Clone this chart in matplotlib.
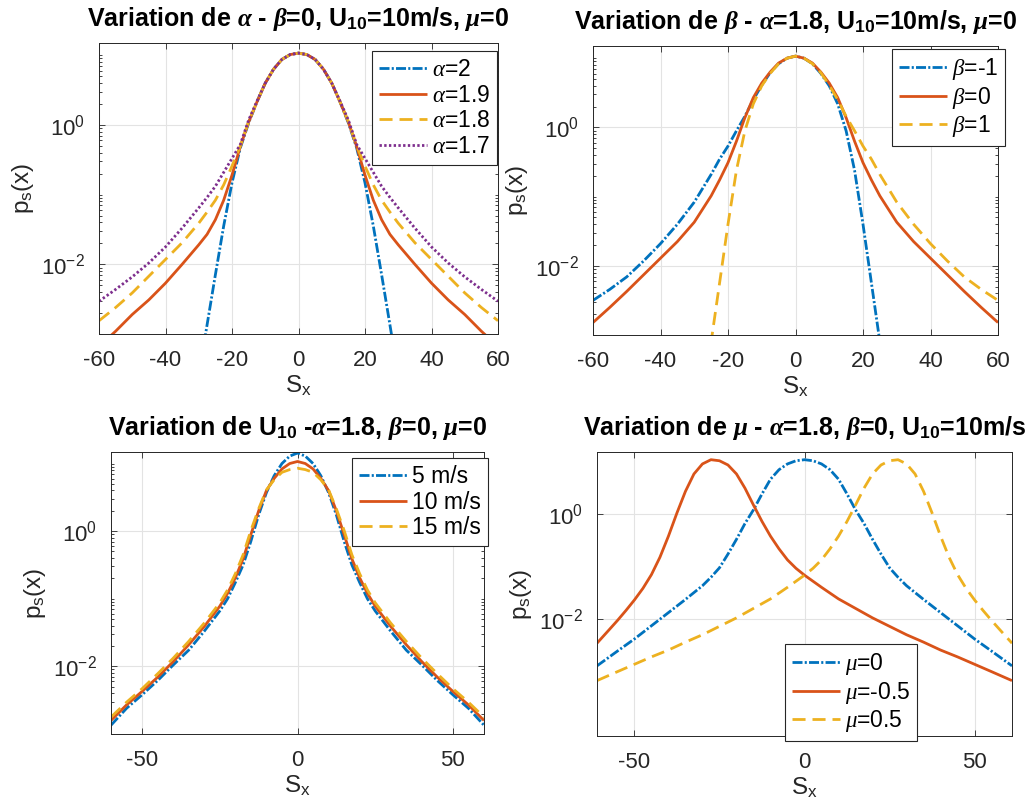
import numpy as np
import matplotlib
matplotlib.use("Agg")
import matplotlib.pyplot as plt
from matplotlib.ticker import FixedLocator, NullFormatter, NullLocator

plt.rcParams.update({
    "font.family": ["Liberation Sans", "DejaVu Sans"],
    "mathtext.fontset": "custom",
    "mathtext.rm": "Liberation Sans",
    "mathtext.it": "Liberation Serif:italic",
    "mathtext.bf": "Liberation Sans:bold",
    "mathtext.bfit": "Liberation Serif:italic:bold",
    "axes.unicode_minus": False,
})

# ---------------- data (log10 of p_s(x)) ----------------
# Panel 1 : variation of alpha
x_a = [-60, -55, -50, -45, -40, -35, -30, -27.5, -25, -22.5, -20, -17.5, -15, -12.5, -10, -7.5, -5, -2.5,
       0, 2.5, 5, 7.5, 10, 12.5, 15, 17.5, 20, 22.5, 25, 27.5, 30, 35, 40, 45, 50, 55, 60]
x_a2 = [-30, -27.5, -25, -22.5, -20, -17.5, -15, -12.5, -10, -7.5, -5, -2.5,
        0, 2.5, 5, 7.5, 10, 12.5, 15, 17.5, 20, 22.5, 25, 27.5, 30]
lp_a20 = [-3.60, -2.87, -2.15, -1.45, -0.83, -0.33, 0.03, 0.33, 0.60, 0.80, 0.94, 1.01,
          1.031, 1.01, 0.94, 0.80, 0.60, 0.33, 0.03, -0.33, -0.83, -1.45, -2.15, -2.87, -3.60]
lp_a19 = [-3.18, -2.96, -2.72, -2.51, -2.27, -2.00, -1.72, -1.57, -1.36, -1.08, -0.72, -0.31, 0.04, 0.33, 0.60, 0.80, 0.94, 1.01,
          1.031, 1.01, 0.94, 0.80, 0.60, 0.33, 0.04, -0.31, -0.72, -1.08, -1.36, -1.57, -1.72, -2.00, -2.27, -2.51, -2.72, -2.96, -3.18]
lp_a18 = [-2.81, -2.62, -2.41, -2.17, -1.93, -1.69, -1.41, -1.25, -1.08, -0.86, -0.59, -0.30, 0.05, 0.33, 0.60, 0.80, 0.94, 1.01,
          1.031, 1.01, 0.94, 0.80, 0.60, 0.33, 0.05, -0.30, -0.59, -0.86, -1.08, -1.25, -1.41, -1.69, -1.93, -2.17, -2.41, -2.62, -2.81]
lp_a17 = [-2.53, -2.36, -2.18, -1.98, -1.75, -1.48, -1.19, -1.04, -0.88, -0.68, -0.48, -0.28, 0.07, 0.34, 0.60, 0.80, 0.94, 1.01,
          1.031, 1.01, 0.94, 0.80, 0.60, 0.34, 0.07, -0.28, -0.48, -0.68, -0.88, -1.04, -1.19, -1.48, -1.75, -1.98, -2.18, -2.36, -2.53]
labels_a = [r"$\alpha$=2", r"$\alpha$=1.9", r"$\alpha$=1.8", r"$\alpha$=1.7"]

# Panel 2 : variation of beta
x_b = [-60, -55, -50, -45, -40, -35, -30, -27.5, -25, -22.5, -20, -17.5, -15, -12.5, -10, -7.5, -5, -2.5,
       0, 2.5, 5, 7.5, 10, 12.5, 15, 17.5, 20, 22.5, 25, 27.5, 30, 35, 40, 45, 50, 55, 60]
x_bm = [-60, -55, -50, -45, -40, -35, -30, -27.5, -25, -22.5, -20, -17.5, -15, -12.5, -10, -7.5, -5, -2.5,
        0, 2.5, 5, 7.5, 10, 12.5, 15, 17.5, 20, 22.5, 25, 27.5]
lp_bm1 = [-2.50, -2.34, -2.16, -1.93, -1.68, -1.40, -1.08, -0.88, -0.68, -0.46, -0.27, -0.05, 0.16, 0.40, 0.61, 0.79, 0.92, 1.00,
          1.03, 1.00, 0.92, 0.78, 0.60, 0.34, -0.05, -0.62, -1.40, -2.25, -3.10, -4.00]
x_bp = [-27.5, -25, -22.5, -20, -17.5, -15, -12.5, -10, -7.5, -5, -2.5,
        0, 2.5, 5, 7.5, 10, 12.5, 15, 17.5, 20, 22.5, 25, 27.5, 30, 35, 40, 45, 50, 55, 60]
lp_bp1 = [-4.00, -3.10, -2.25, -1.40, -0.62, -0.05, 0.34, 0.60, 0.78, 0.92, 1.00,
          1.03, 1.00, 0.92, 0.79, 0.61, 0.40, 0.16, -0.05, -0.27, -0.46, -0.68, -0.88, -1.08, -1.40, -1.68, -1.93, -2.16, -2.34, -2.50]
lp_b0 = [-2.82, -2.60, -2.37, -2.13, -1.89, -1.65, -1.37, -1.18, -0.99, -0.76, -0.51, -0.20, 0.14, 0.43, 0.64, 0.80, 0.93, 1.00,
         1.03, 1.00, 0.93, 0.80, 0.64, 0.43, 0.14, -0.20, -0.51, -0.76, -0.99, -1.18, -1.37, -1.65, -1.89, -2.13, -2.37, -2.60, -2.82]
labels_b = [r"$\beta$=-1", r"$\beta$=0", r"$\beta$=1"]

# Panel 3 : variation of U10
x_u = [-60, -55, -50, -45, -40, -35, -30, -25, -22.5, -20, -17.5, -15, -12.5, -10, -7.5, -5, -2.5,
       0, 2.5, 5, 7.5, 10, 12.5, 15, 17.5, 20, 22.5, 25, 30, 35, 40, 45, 50, 55, 60]
lp_u5 = [-2.87, -2.62, -2.42, -2.21, -1.98, -1.76, -1.48, -1.18, -1.00, -0.76, -0.50, -0.15, 0.24, 0.57, 0.82, 1.00, 1.11,
         1.155, 1.11, 1.00, 0.82, 0.57, 0.24, -0.15, -0.50, -0.76, -1.00, -1.18, -1.48, -1.76, -1.98, -2.21, -2.42, -2.62, -2.87]
lp_u10 = [-2.80, -2.57, -2.37, -2.16, -1.93, -1.68, -1.41, -1.11, -0.92, -0.69, -0.41, -0.05, 0.30, 0.60, 0.78, 0.92, 1.00,
          1.03, 1.00, 0.92, 0.78, 0.60, 0.30, -0.05, -0.41, -0.69, -0.92, -1.11, -1.41, -1.68, -1.93, -2.16, -2.37, -2.57, -2.80]
lp_u15 = [-2.75, -2.53, -2.33, -2.11, -1.88, -1.63, -1.36, -1.06, -0.87, -0.63, -0.35, 0.01, 0.33, 0.61, 0.76, 0.87, 0.91,
          0.93, 0.91, 0.87, 0.76, 0.61, 0.33, 0.01, -0.35, -0.63, -0.87, -1.06, -1.36, -1.63, -1.88, -2.11, -2.33, -2.53, -2.75]
labels_u = ["5 m/s", "10 m/s", "15 m/s"]

# Panel 4 : variation of mu
x_m0 = [-61, -55, -50, -45, -40, -35, -30, -27.5, -25, -22.5, -20, -17.5, -15, -12.5, -10, -7.5, -5, -2.5,
        0, 2.5, 5, 7.5, 10, 12.5, 15, 17.5, 20, 22.5, 25, 27.5, 30, 35, 40, 45, 50, 55, 61]
lp_m0 = [-2.88, -2.60, -2.37, -2.12, -1.87, -1.62, -1.36, -1.20, -1.02, -0.76, -0.48, -0.18, 0.08, 0.38, 0.66, 0.84, 0.95, 1.01,
         1.03, 1.01, 0.95, 0.84, 0.66, 0.38, 0.08, -0.18, -0.48, -0.76, -1.02, -1.20, -1.36, -1.62, -1.87, -2.12, -2.37, -2.60, -2.88]
x_mm = [-61, -57.5, -55, -52.5, -50, -47.5, -45, -42.5, -40, -37.5, -35, -32.5, -30, -27.5, -25, -22.5, -20,
        -17.5, -15, -12.5, -10, -7.5, -5, -2.5, 0, 5, 10, 15, 20, 25, 30, 35, 40, 45, 50, 55, 61]
lp_mm = [-2.45, -2.20, -2.02, -1.83, -1.63, -1.41, -1.15, -0.82, -0.42, 0.02, 0.43, 0.76, 0.95, 1.03, 1.01, 0.93, 0.76,
         0.49, 0.17, -0.14, -0.42, -0.66, -0.87, -1.03, -1.16, -1.39, -1.61, -1.79, -1.97, -2.13, -2.29, -2.43, -2.58, -2.71, -2.85, -2.99, -3.16]
x_mp = [-61, -55, -50, -45, -40, -35, -30, -25, -20, -15, -10, -5, 0, 2.5, 5, 7.5, 10, 12.5, 15, 17.5,
        20, 22.5, 25, 27.5, 30, 32.5, 35, 37.5, 40, 42.5, 45, 47.5, 50, 52.5, 55, 57.5, 61]
lp_mp = [-3.16, -2.99, -2.85, -2.71, -2.58, -2.43, -2.29, -2.13, -1.97, -1.79, -1.61, -1.39, -1.16, -1.03, -0.87, -0.66, -0.42, -0.14, 0.17, 0.49,
         0.76, 0.93, 1.01, 1.03, 0.95, 0.76, 0.43, 0.02, -0.42, -0.82, -1.15, -1.41, -1.63, -1.83, -2.02, -2.20, -2.45]
labels_m = [r"$\mu$=0", r"$\mu$=-0.5", r"$\mu$=0.5"]

# ---------------- style ----------------
C_BLUE, C_RED, C_YEL, C_PUR = "#0072BD", "#D95319", "#EDB120", "#7E2F8E"
LW = 2.0
DASHDOT = (3.6, 0.8, 0.75, 0.8)
DASHED = (4.7, 2.5)
DOTTED = (0.85, 0.85)
AX_C = "#262626"
FS_TICK = 16
FS_LAB = 17.5
FS_TITLE = 18
FS_LEG = 16.5

W, H = 1034, 811
fig = plt.figure(figsize=(W / 100, H / 100), dpi=100)


def pos(l, t, r, b):
    return [l / W, 1 - b / H, (r - l) / W, (b - t) / H]


def line(ax, x, lp, color, dashes, label):
    y = 10.0 ** np.asarray(lp)
    kw = dict(color=color, lw=LW, label=label, solid_capstyle="butt", dash_capstyle="butt")
    ln, = ax.plot(x, y, **kw)
    if dashes is not None:
        ln.set_dashes(dashes)
    return ln


def style(ax, xlim, xt, ylim, minor, title):
    ax.set_yscale("log")
    ax.set_xlim(*xlim)
    ax.set_ylim(*ylim)
    ax.set_xticks(xt)
    ax.set_xticklabels([str(v) for v in xt])
    ax.yaxis.set_major_locator(FixedLocator([1e-2, 1e0]))
    ax.set_yticklabels([r"$\mathregular{10^{-2}}$", r"$\mathregular{10^{0}}$"])
    if minor:
        mins = [m * 10.0 ** k for k in range(-4, 2) for m in range(1, 10)
                if not (m == 1 and k in (-2, 0))]
        ax.yaxis.set_minor_locator(FixedLocator(mins))
        ax.yaxis.set_minor_formatter(NullFormatter())
    else:
        ax.yaxis.set_minor_locator(NullLocator())
    ax.xaxis.set_minor_locator(NullLocator())
    ax.tick_params(which="both", direction="in", top=True, right=True, color=AX_C,
                   labelcolor=AX_C, labelsize=FS_TICK, width=0.6)
    ax.tick_params(which="major", length=4.5)
    ax.tick_params(which="minor", length=2.5)
    ax.tick_params(axis="x", pad=11.5)
    ax.tick_params(axis="y", pad=10)
    for s in ax.spines.values():
        s.set_color(AX_C)
        s.set_linewidth(0.7)
    ax.grid(True, which="major", color="#e3e3e3", lw=0.8)
    ax.set_axisbelow(True)
    ax.set_xlabel(r"S$_\mathregular{x}$", fontsize=FS_LAB, color=AX_C, labelpad=2)
    ax.set_ylabel(r"p$_\mathregular{s}$(x)", fontsize=FS_LAB, color=AX_C, labelpad=4)
    ax.set_title(title, fontsize=FS_TITLE, fontweight="bold", pad=12)


def legend(ax, l, t):
    leg = ax.legend(loc="upper left", bbox_to_anchor=(l / W, 1 - t / H), bbox_transform=fig.transFigure,
                    borderaxespad=0, fontsize=FS_LEG, fancybox=False, edgecolor=AX_C, framealpha=1,
                    handlelength=2.1, handletextpad=0.22, labelspacing=0.12, borderpad=0.3)
    leg.get_frame().set_linewidth(0.8)
    for t_ in leg.get_texts():
        t_.set_color("black")


# Panel 1
ax1 = fig.add_axes(pos(99, 43, 498, 334))
line(ax1, x_a2, lp_a20, C_BLUE, DASHDOT, labels_a[0])
line(ax1, x_a, lp_a19, C_RED, None, labels_a[1])
line(ax1, x_a, lp_a18, C_YEL, DASHED, labels_a[2])
line(ax1, x_a, lp_a17, C_PUR, DOTTED, labels_a[3])
style(ax1, (-60, 60), [-60, -40, -20, 0, 20, 40, 60], (1e-3, 15), True,
      r"Variation de $\mathbfit{\alpha}$ - $\mathbfit{\beta}$=0, U$_{\mathbf{10}}$=10m/s, $\mathbfit{\mu}$=0")
legend(ax1, 372, 51)

# Panel 2
ax2 = fig.add_axes(pos(593, 46, 998, 335))
line(ax2, x_bm, lp_bm1, C_BLUE, DASHDOT, labels_b[0])
line(ax2, x_b, lp_b0, C_RED, None, labels_b[1])
line(ax2, x_bp, lp_bp1, C_YEL, DASHED, labels_b[2])
style(ax2, (-60, 60), [-60, -40, -20, 0, 20, 40, 60], (1e-3, 15), True,
      r"Variation de $\mathbfit{\beta}$ - $\mathbfit{\alpha}$=1.8, U$_{\mathbf{10}}$=10m/s, $\mathbfit{\mu}$=0")
legend(ax2, 892, 49)

# Panel 3
ax3 = fig.add_axes(pos(111, 452, 484, 734))
line(ax3, x_u, lp_u5, C_BLUE, DASHDOT, labels_u[0])
line(ax3, x_u, lp_u10, C_RED, None, labels_u[1])
line(ax3, x_u, lp_u15, C_YEL, DASHED, labels_u[2])
style(ax3, (-60, 60), [-50, 0, 50], (1e-3, 14.8), True,
      r"Variation de U$_{\mathbf{10}}$ -$\mathbfit{\alpha}$=1.8, $\mathbfit{\beta}$=0, $\mathbfit{\mu}$=0")
legend(ax3, 352, 458)

# Panel 4
ax4 = fig.add_axes(pos(597, 452, 1012, 736))
line(ax4, x_m0, lp_m0, C_BLUE, DASHDOT, labels_m[0])
line(ax4, x_mm, lp_mm, C_RED, None, labels_m[1])
line(ax4, x_mp, lp_mp, C_YEL, DASHED, labels_m[2])
style(ax4, (-61, 61), [-50, 0, 50], (10 ** -4.21, 15), False,
      r"Variation de $\mathbfit{\mu}$ - $\mathbfit{\alpha}$=1.8, $\mathbfit{\beta}$=0, U$_{\mathbf{10}}$=10m/s")
legend(ax4, 785, 644)

fig.savefig("out.png", dpi=100)
